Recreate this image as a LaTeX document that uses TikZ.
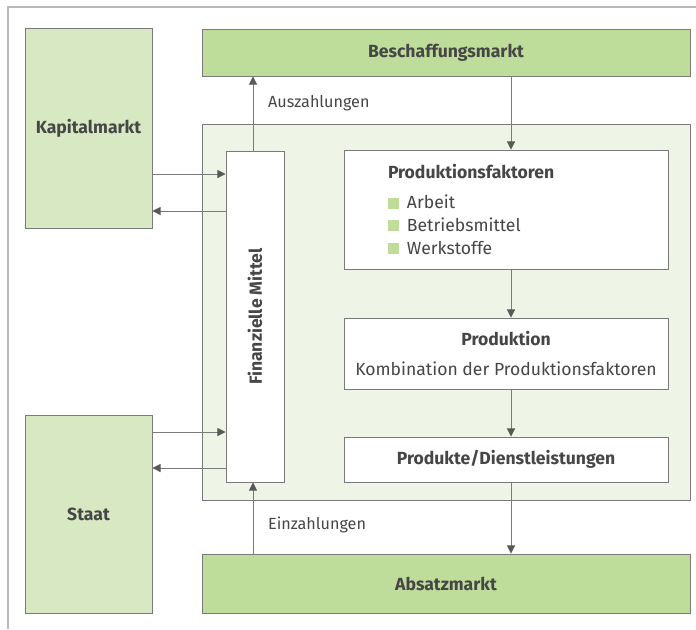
\documentclass[tikz,border=0pt]{standalone}
\usepackage{fontspec}
\setmainfont{Fira Sans}
\usepackage{tikz}
\usetikzlibrary{arrows.meta}

\definecolor{mktdark}{HTML}{BEDC9A}
\definecolor{mktlight}{HTML}{D7E8C2}
\definecolor{innerbg}{HTML}{EEF5E6}
\definecolor{linegray}{HTML}{7A7A7A}
\definecolor{textgray}{HTML}{464646}
\newcommand{\bull}{\textcolor{mktdark}{\rule{0.63em}{0.63em}}\hspace{0.45em}}

\begin{document}
\begin{tikzpicture}[
  font=\fontsize{15}{19.5}\selectfont\color{textgray},
  mkt/.style={draw=linegray,line width=0.8pt,fill=mktdark,font=\fontsize{15}{18}\selectfont\bfseries\color{textgray}},
  side/.style={draw=linegray,line width=0.8pt,fill=mktlight,font=\fontsize{15}{18}\selectfont\bfseries\color{textgray}},
  box/.style={draw=linegray,line width=0.8pt,fill=white,minimum width=9.72cm,inner sep=0pt},
  arr/.style={-{Triangle[length=7pt,width=7pt,color=textgray!90]},draw=linegray,line width=0.8pt},
  lbl/.style={anchor=west,font=\fontsize{13.8}{16}\selectfont\color{textgray}}
]
\useasboundingbox (0,0) rectangle (20.88,-18.87);
% Frame
\draw[line width=1.2pt,color=gray!55] (0.24,-18.87) -- (0.24,-0.21) -- (20.88,-0.21);
% Inner area
\draw[draw=linegray,line width=0.8pt,fill=innerbg] (6.06,-3.72) rectangle (20.7,-15.0);
% Markets
\node[side,minimum width=3.81cm,minimum height=6.0cm] (km) at (2.655,-3.84) {Kapitalmarkt};
\node[side,minimum width=3.81cm,minimum height=5.94cm] (st) at (2.655,-15.42) {Staat};
\node[mkt,minimum width=14.64cm,minimum height=1.41cm] (bm) at (13.38,-1.575) {Beschaffungsmarkt};
\node[mkt,minimum width=14.64cm,minimum height=1.77cm] (am) at (13.38,-17.505) {Absatzmarkt};
% Finanzielle Mittel
\node[box,minimum width=1.74cm,minimum height=9.93cm] (fm) at (7.65,-9.495) {};
\node[rotate=90,font=\fontsize{15}{18}\selectfont\bfseries\color{textgray}] at (fm.center) {Finanzielle Mittel};
% Production chain
\node[box,minimum height=3.57cm,text width=7.08cm,align=left,inner xsep=1.32cm] (pf) at (15.18,-6.285)
  {\textbf{Produktionsfaktoren}\\[6pt]\bull Arbeit\\\bull Betriebsmittel\\\bull Werkstoffe};
\node[box,minimum height=2.13cm,align=center] (pr) at (15.18,-10.605)
  {\textbf{Produktion}\\[6.5pt]Kombination der Produktionsfaktoren};
\node[box,minimum height=1.35cm,font=\fontsize{15}{18}\selectfont\bfseries\color{textgray}] (pd) at (15.18,-13.785) {Produkte/Dienstleistungen};
% Helper coordinates
\coordinate (fx) at (15.33,0);
\coordinate (gx) at (7.59,0);
\coordinate (k1) at (0,-5.22);
\coordinate (k2) at (0,-6.33);
\coordinate (s1) at (0,-12.96);
\coordinate (s2) at (0,-14.04);
% Arrows
\draw[arr] (bm.south -| fx) -- (pf.north -| fx);
\draw[arr] (pf.south -| fx) -- (pr.north -| fx);
\draw[arr] (pr.south -| fx) -- (pd.north -| fx);
\draw[arr] (pd.south -| fx) -- (am.north -| fx);
\draw[arr] (fm.north -| gx) -- (bm.south -| gx);
\draw[arr] (am.north -| gx) -- (fm.south -| gx);
\draw[arr] (km.east |- k1) -- (fm.west |- k1);
\draw[arr] (fm.west |- k2) -- (km.east |- k2);
\draw[arr] (st.east |- s1) -- (fm.west |- s1);
\draw[arr] (fm.west |- s2) -- (st.east |- s2);
% Labels
\node[lbl] (az) at (7.92,-3.09) {Auszahlungen};
\node[lbl] (ez) at (7.92,-15.75) {Einzahlungen};
\end{tikzpicture}
\end{document}
